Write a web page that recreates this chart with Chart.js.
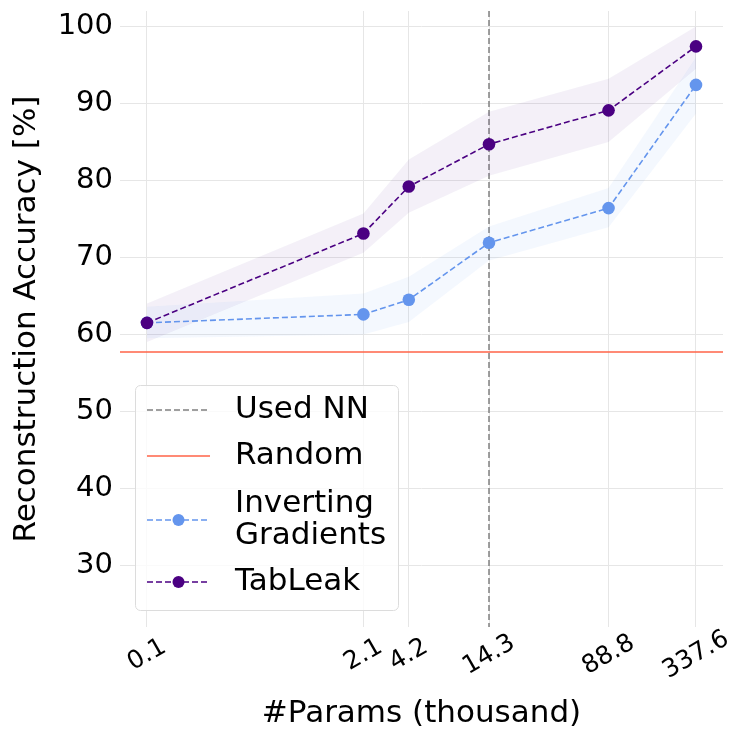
<!DOCTYPE html>
<html>
<head>
<meta charset="utf-8">
<script src="https://cdn.jsdelivr.net/npm/chart.js@4.4.1/dist/chart.umd.min.js"></script>
<style>
  html, body { margin: 0; padding: 0; background: #fff; }
  #wrap { width: 747px; height: 747px; }
</style>
</head>
<body>
<div id="wrap"><canvas id="accChart"></canvas></div>
<script>
// data
const params = [0.077, 2.1, 4.2, 14.3, 88.8, 337.6];   // thousand params (log axis)
const xTickLabels = ['0.1', '2.1', '4.2', '14.3', '88.8', '337.6'];
const yTicks = [30, 40, 50, 60, 70, 80, 90, 100];

const igMean = [61.5, 62.6, 64.5, 71.9, 76.4, 92.4];
const igLow  = [59.5, 60.0, 61.6, 69.6, 73.9, 88.7];
const igHigh = [63.6, 65.3, 67.5, 74.0, 79.0, 96.0];

const tlMean = [61.5, 73.1, 79.2, 84.7, 89.1, 97.4];
const tlLow  = [59.0, 70.6, 75.8, 80.6, 85.0, 94.5];
const tlHigh = [64.0, 75.7, 82.7, 88.9, 93.2, 100.0];

const usedNN = 14.3;
const randomAcc = 57.7;

const FONT = "'DejaVu Sans', sans-serif";
const IG_COLOR = '#6495ED';
const TL_COLOR = '#4B0082';
const RAND_COLOR = '#FF6347';
const NN_COLOR = '#808080';
const DASH = [6, 3];

const pts = ys => params.map((p, i) => ({ x: p, y: ys[i] }));

// reference lines under the data
const refLines = {
  id: 'refLines',
  beforeDatasetsDraw(chart) {
    const { ctx, chartArea: a, scales: { x, y } } = chart;
    ctx.save();
    ctx.lineWidth = 1.5;
    ctx.strokeStyle = RAND_COLOR;
    const ry = y.getPixelForValue(randomAcc);
    ctx.beginPath(); ctx.moveTo(a.left, ry); ctx.lineTo(a.right, ry); ctx.stroke();
    ctx.strokeStyle = NN_COLOR;
    ctx.setLineDash(DASH);
    const nx = x.getPixelForValue(usedNN);
    ctx.beginPath(); ctx.moveTo(nx, a.top); ctx.lineTo(nx, a.bottom); ctx.stroke();
    ctx.restore();
  }
};

// rotated x tick labels, centred on the tick
const xLabels = {
  id: 'xLabels',
  afterDraw(chart) {
    const { ctx, scales: { x } } = chart;
    ctx.save();
    ctx.font = '25px ' + FONT;
    ctx.fillStyle = '#000';
    ctx.textAlign = 'center';
    ctx.textBaseline = 'middle';
    params.forEach((p, i) => {
      ctx.save();
      ctx.translate(x.getPixelForValue(p), 655);
      ctx.rotate(-Math.PI / 6);
      ctx.fillText(xTickLabels[i], 0, 0);
      ctx.restore();
    });
    ctx.restore();
  }
};

// legend box inside the plot
const boxLegend = {
  id: 'boxLegend',
  afterDraw(chart) {
    const ctx = chart.ctx;
    ctx.save();
    ctx.beginPath();
    ctx.roundRect(135.5, 385.5, 263, 225, 5);
    ctx.fillStyle = 'rgba(255,255,255,0.8)';
    ctx.fill();
    ctx.strokeStyle = '#dcdcdc';
    ctx.lineWidth = 1;
    ctx.stroke();

    const items = [
      { text: ['Used NN'], color: NN_COLOR, dash: DASH, marker: false, y: 410 },
      { text: ['Random'], color: RAND_COLOR, dash: [], marker: false, y: 456 },
      { text: ['Inverting', 'Gradients'], color: IG_COLOR, dash: DASH, marker: true, y: 520 },
      { text: ['TabLeak'], color: TL_COLOR, dash: DASH, marker: true, y: 582 }
    ];
    ctx.font = '31px ' + FONT;
    ctx.textBaseline = 'middle';
    ctx.textAlign = 'left';
    items.forEach(it => {
      ctx.strokeStyle = it.color;
      ctx.lineWidth = 1.5;
      ctx.setLineDash(it.dash);
      ctx.beginPath(); ctx.moveTo(147, it.y); ctx.lineTo(210, it.y); ctx.stroke();
      ctx.setLineDash([]);
      if (it.marker) {
        ctx.fillStyle = it.color;
        ctx.beginPath(); ctx.arc(178.5, it.y, 6, 0, Math.PI * 2); ctx.fill();
      }
      ctx.fillStyle = '#000';
      const n = it.text.length;
      it.text.forEach((t, k) => ctx.fillText(t, 235, it.y + (k - (n - 1) / 2) * 32));
    });
    ctx.restore();
  }
};

const band = (ys, color, fill) => ({
  data: pts(ys), borderWidth: 0, pointRadius: 0, backgroundColor: color,
  fill: fill, order: 5
});

new Chart(document.getElementById('accChart').getContext('2d'), {
  type: 'line',
  data: {
    datasets: [
      band(igHigh, 'rgba(100,149,237,0.07)', '+1'),
      band(igLow, 'rgba(100,149,237,0.07)', false),
      band(tlHigh, 'rgba(75,0,130,0.06)', '+1'),
      band(tlLow, 'rgba(75,0,130,0.06)', false),
      {
        label: 'Inverting Gradients', data: pts(igMean), order: 1,
        borderColor: IG_COLOR, backgroundColor: IG_COLOR, borderWidth: 1.6,
        borderDash: DASH, pointRadius: 6.3, pointBorderWidth: 0, fill: false
      },
      {
        label: 'TabLeak', data: pts(tlMean), order: 0,
        borderColor: TL_COLOR, backgroundColor: TL_COLOR, borderWidth: 1.6,
        borderDash: DASH, pointRadius: 6.3, pointBorderWidth: 0, fill: false
      }
    ]
  },
  options: {
    responsive: true,
    maintainAspectRatio: false,
    animation: false,
    layout: { padding: { top: 11, right: 24, bottom: 0, left: 0 } },
    plugins: { legend: { display: false }, tooltip: { enabled: false } },
    scales: {
      x: {
        type: 'logarithmic', min: 0.051, max: 510,
        afterBuildTicks: s => { s.ticks = params.map(v => ({ value: v })); },
        afterFit: s => { s.height = 120; s.paddingLeft = 0; s.paddingRight = 0; },
        ticks: { display: false },
        grid: { color: '#e6e6e6', drawTicks: false },
        border: { display: false },
        title: {
          display: true, text: '#Params (thousand)', color: '#000',
          font: { family: FONT, size: 31 }, padding: { top: 0, bottom: 14 }
        }
      },
      y: {
        min: 22, max: 102,
        afterBuildTicks: s => { s.ticks = yTicks.map(v => ({ value: v })); },
        afterFit: s => { s.width = 120; s.paddingTop = 0; s.paddingBottom = 0; },
        ticks: { color: '#000', font: { family: FONT, size: 29 }, padding: 7 },
        grid: { color: '#e6e6e6', drawTicks: false },
        border: { display: false },
        title: {
          display: true, text: 'Reconstruction Accuracy [%]', color: '#000',
          font: { family: FONT, size: 31 }, padding: { top: 8, bottom: 0 }
        }
      }
    }
  },
  plugins: [refLines, xLabels, boxLegend]
});
</script>
</body>
</html>
